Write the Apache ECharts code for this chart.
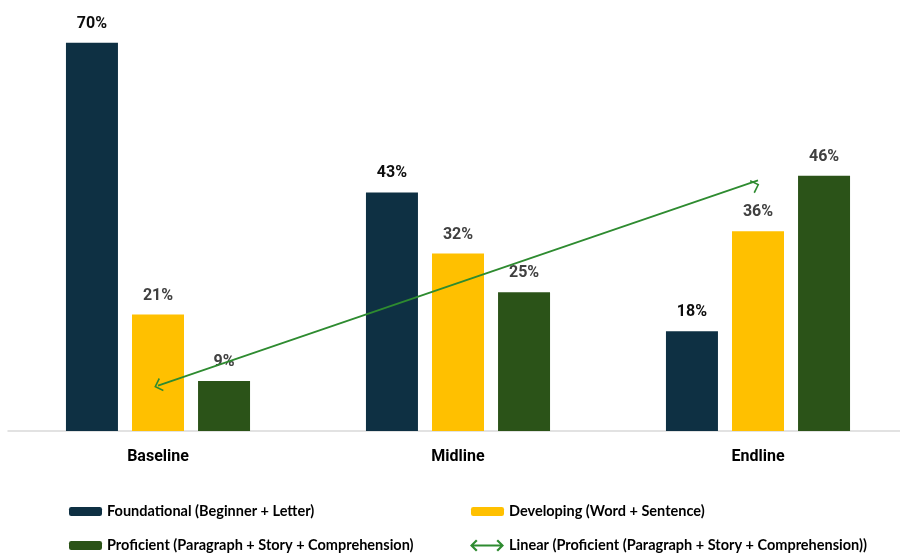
<!DOCTYPE html>
<html>
<head>
<meta charset="utf-8">
<script src="https://cdn.jsdelivr.net/npm/echarts@6/dist/echarts.min.js"></script>
<style>
  html, body { margin: 0; padding: 0; background: #ffffff; overflow: hidden; }
  /* the category axis runs a few pixels past the right edge of the page */
  #chart { width: 910px; height: 553px; }
</style>
</head>
<body>
<div id="chart"></div>
<script>
// Assessment rounds
const rounds = ['Baseline', 'Midline', 'Endline'];

// Share of learners in each reading level (%)
const foundational = [70, 43, 18];
const developing = [21, 32, 36];
const proficient = [9, 25, 46];

// Series names as shown in the legend
const nameFoundational = 'Foundational (Beginner + Letter)';
const nameDeveloping = 'Developing (Word + Sentence)';
const nameProficient = 'Proficient (Paragraph + Story + Comprehension)';
const nameTrend = 'Linear (Proficient (Paragraph + Story + Comprehension))';

// Least-squares linear trend of the proficient series over the rounds
function linearTrend(values) {
  const n = values.length;
  let sx = 0, sy = 0, sxy = 0, sxx = 0;
  values.forEach((v, i) => { sx += i; sy += v; sxy += i * v; sxx += i * i; });
  const slope = (n * sxy - sx * sy) / (n * sxx - sx * sx);
  const intercept = (sy - slope * sx) / n;
  return [intercept, intercept + slope * (n - 1)];
}
const trendEnds = linearTrend(proficient);

const FONT = "Roboto, 'Liberation Sans', sans-serif";
const LEGEND_FONT = "Lato, Roboto, sans-serif";
const TREND_COLOR = '#2E8B30';

// open chevron used at both ends of the trend line (tip at the top)
const chevron = 'path://M7,0 L14,7 L12.6,8 L7,2.2 L1.4,8 L0,7 Z';
// double-headed arrow for the trend legend entry
const doubleArrow = 'path://M1,5.1 L33,5.1 L33,6.9 L1,6.9 Z M0,6 L6,0 L7.6,1.4 L2.9,6 L7.6,10.6 L6,12 Z M34,6 L28,12 L26.4,10.6 L31.1,6 L26.4,1.4 L28,0 Z';

function barLabel(color) {
  return {
    show: true,
    position: 'top',
    distance: 11,
    formatter: '{c}%',
    fontFamily: FONT,
    fontWeight: 'bold',
    fontSize: 16,
    color: color
  };
}

function legendAt(name, left, top, extra) {
  return Object.assign({
    data: [name],
    left: left,
    top: top,
    padding: 0,
    itemWidth: 33,
    itemHeight: 9,
    selectedMode: false,
    textStyle: {
      fontFamily: LEGEND_FONT,
      fontWeight: 'bold',
      fontSize: 14.5,
      color: '#000000'
    }
  }, extra || {});
}

const chart = echarts.init(document.getElementById('chart'), null, { renderer: 'canvas' });

chart.setOption({
  animation: false,
  backgroundColor: '#ffffff',
  grid: { left: 8, right: 2, top: 15, bottom: 122, containLabel: false },
  legend: [
    legendAt(nameFoundational, 69, 504),
    legendAt(nameDeveloping, 471, 504),
    legendAt(nameProficient, 69, 538),
    legendAt(nameTrend, 470, 538, { itemWidth: 34, itemHeight: 12, icon: doubleArrow })
  ],
  xAxis: {
    type: 'category',
    data: rounds,
    axisTick: { show: false },
    axisLine: { lineStyle: { color: '#D9D9D9', width: 1.5 } },
    axisLabel: {
      margin: 18,
      fontFamily: FONT,
      fontWeight: 'bold',
      fontSize: 16,
      color: '#000000'
    }
  },
  yAxis: {
    type: 'value',
    min: 0,
    max: 75,
    show: false,
    splitLine: { show: false }
  },
  series: [
    {
      name: nameFoundational,
      type: 'bar',
      data: foundational,
      barWidth: 52,
      barGap: '27%',
      itemStyle: { color: '#0E3043' },
      label: barLabel('#0D0D0D')
    },
    {
      name: nameDeveloping,
      type: 'bar',
      data: developing,
      barWidth: 52,
      barGap: '27%',
      itemStyle: { color: '#FFC000' },
      label: barLabel('#404040')
    },
    {
      name: nameProficient,
      type: 'bar',
      data: proficient,
      barWidth: 52,
      barGap: '27%',
      itemStyle: { color: '#2B5318' },
      label: barLabel('#404040')
    },
    {
      name: nameTrend,
      type: 'line',
      data: [],
      itemStyle: { color: TREND_COLOR },
      lineStyle: { color: TREND_COLOR },
      markLine: {
        silent: true,
        symbol: [chevron, chevron],
        symbolSize: [14, 8],
        symbolOffset: [0, 4],
        label: { show: false },
        lineStyle: { color: TREND_COLOR, width: 1.8, type: 'solid' },
        data: [[
          { coord: [rounds[0], trendEnds[0]] },
          { coord: [rounds[rounds.length - 1], trendEnds[1]] }
        ]]
      }
    }
  ]
});
</script>
</body>
</html>
